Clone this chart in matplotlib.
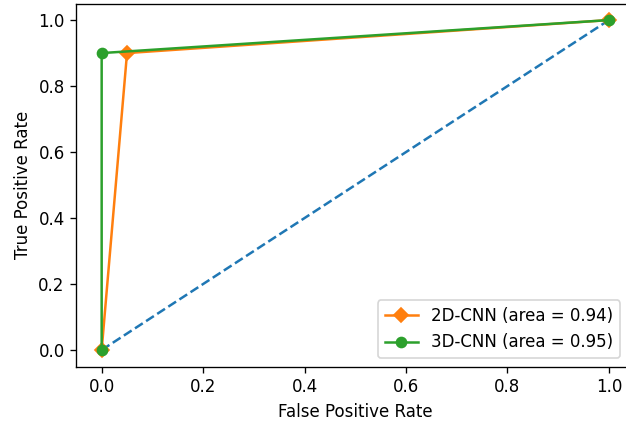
import matplotlib
matplotlib.use("Agg")
import matplotlib.pyplot as plt

# ROC points
fpr_2d = [0.0, 0.05, 1.0]
tpr_2d = [0.0, 0.90, 1.0]
fpr_3d = [0.0, 0.0, 1.0]
tpr_3d = [0.0, 0.90, 1.0]
chance = [0.0, 1.0]

label_2d = '2D-CNN (area = 0.94)'
label_3d = '3D-CNN (area = 0.95)'

W, H, DPI = 626, 422, 120
fig = plt.figure(figsize=(W / DPI, H / DPI), dpi=DPI)
# the right edge of the axes runs past the image, as in the reference crop
ax = fig.add_axes([76.3 / W, 0.1315, 558 / W, 0.860])
ax.spines['right'].set_visible(False)

ax.plot(chance, chance, linestyle='--', color='tab:blue')
ax.plot(fpr_2d, tpr_2d, marker='D', color='tab:orange', label=label_2d)
ax.plot(fpr_3d, tpr_3d, marker='o', color='tab:green', label=label_3d)

ax.set_xlabel('False Positive Rate')
ax.set_ylabel('True Positive Rate')
ax.legend(loc='lower right', bbox_to_anchor=(620 / W, (H - 358) / H),
          bbox_transform=fig.transFigure, borderaxespad=0)

fig.savefig('out.png', dpi=DPI)
